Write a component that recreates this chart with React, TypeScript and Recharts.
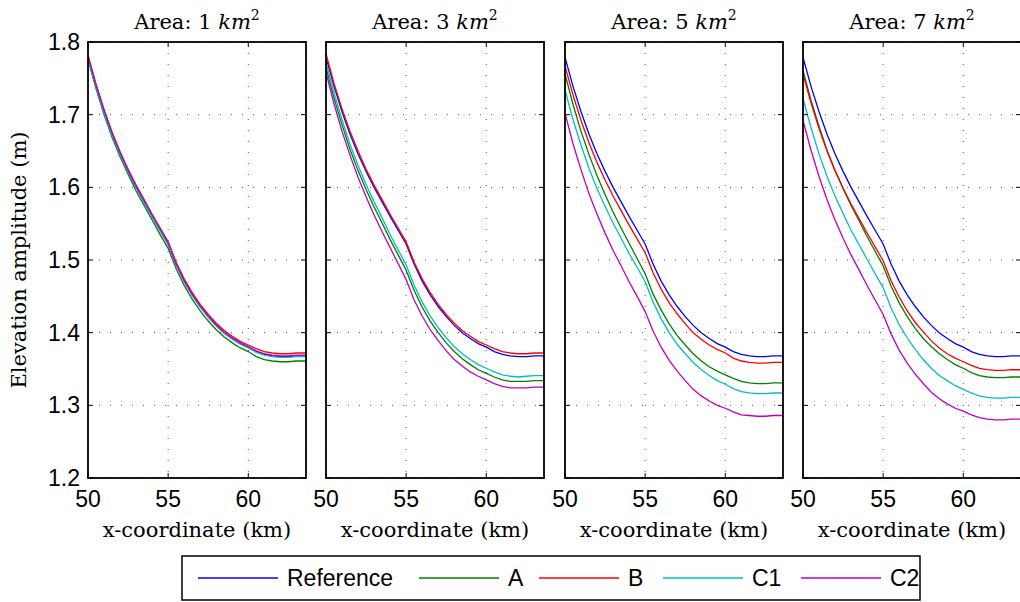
import React from 'react';
import { LineChart, Line, XAxis, YAxis, CartesianGrid } from 'recharts';

// ---------- data ----------
const xKm = [50, 50.5, 51, 51.5, 52, 52.5, 53, 53.5, 54, 54.5, 55, 55.5, 56, 56.5, 57, 57.5, 58, 58.5, 59, 59.5, 60, 60.5, 61, 61.5, 62, 62.5, 63, 63.6];
const yTicks = [1.2, 1.3, 1.4, 1.5, 1.6, 1.7, 1.8];
const xTicks = [50, 55, 60];
const areaValues = ['1', '3', '5', '7'];
const seriesNames = ['Reference', 'A', 'B', 'C1', 'C2'];
const seriesColors = ['#0000ff', '#008000', '#ff0000', '#00bfbf', '#bf00bf'];

const reference = [1.779, 1.739, 1.704, 1.673, 1.646, 1.622, 1.600, 1.580, 1.560, 1.541, 1.522, 1.494, 1.471, 1.452, 1.436, 1.422, 1.410, 1.400, 1.392, 1.385, 1.380, 1.374, 1.370, 1.368, 1.367, 1.367, 1.368, 1.368];

const area1A = [1.776, 1.736, 1.700, 1.669, 1.642, 1.618, 1.595, 1.575, 1.555, 1.535, 1.516, 1.488, 1.465, 1.446, 1.430, 1.416, 1.404, 1.394, 1.386, 1.379, 1.374, 1.367, 1.363, 1.361, 1.360, 1.360, 1.361, 1.361];
const area1B = [1.782, 1.742, 1.707, 1.676, 1.649, 1.625, 1.603, 1.583, 1.563, 1.544, 1.525, 1.497, 1.474, 1.455, 1.439, 1.425, 1.413, 1.403, 1.395, 1.388, 1.383, 1.378, 1.374, 1.372, 1.371, 1.371, 1.372, 1.372];
const area1C1 = [1.778, 1.738, 1.703, 1.672, 1.645, 1.621, 1.599, 1.579, 1.559, 1.540, 1.521, 1.493, 1.470, 1.451, 1.435, 1.421, 1.409, 1.399, 1.391, 1.384, 1.379, 1.373, 1.369, 1.367, 1.366, 1.366, 1.367, 1.367];
const area1C2 = [1.781, 1.741, 1.706, 1.675, 1.648, 1.624, 1.602, 1.582, 1.562, 1.543, 1.524, 1.495, 1.472, 1.453, 1.437, 1.423, 1.411, 1.401, 1.393, 1.386, 1.381, 1.375, 1.371, 1.369, 1.368, 1.368, 1.369, 1.369];

const area3A = [1.765, 1.723, 1.686, 1.652, 1.623, 1.597, 1.573, 1.551, 1.528, 1.507, 1.486, 1.458, 1.435, 1.416, 1.400, 1.386, 1.374, 1.364, 1.356, 1.349, 1.344, 1.339, 1.335, 1.333, 1.333, 1.333, 1.334, 1.334];
const area3B = [1.784, 1.743, 1.708, 1.677, 1.650, 1.625, 1.603, 1.583, 1.563, 1.544, 1.525, 1.497, 1.474, 1.455, 1.439, 1.425, 1.413, 1.403, 1.395, 1.388, 1.383, 1.378, 1.374, 1.372, 1.371, 1.371, 1.372, 1.372];
const area3C1 = [1.772, 1.730, 1.693, 1.659, 1.630, 1.604, 1.580, 1.558, 1.535, 1.514, 1.493, 1.465, 1.442, 1.423, 1.407, 1.393, 1.381, 1.371, 1.363, 1.356, 1.351, 1.346, 1.342, 1.340, 1.339, 1.340, 1.341, 1.341];
const area3C2 = [1.758, 1.715, 1.677, 1.644, 1.614, 1.587, 1.562, 1.539, 1.517, 1.495, 1.473, 1.445, 1.423, 1.404, 1.389, 1.375, 1.363, 1.354, 1.346, 1.340, 1.335, 1.330, 1.326, 1.324, 1.324, 1.324, 1.325, 1.325];

const area5A = [1.756, 1.714, 1.677, 1.645, 1.616, 1.590, 1.566, 1.544, 1.523, 1.502, 1.481, 1.453, 1.431, 1.412, 1.396, 1.383, 1.371, 1.361, 1.353, 1.347, 1.342, 1.337, 1.333, 1.331, 1.330, 1.330, 1.331, 1.331];
const area5B = [1.767, 1.727, 1.692, 1.661, 1.634, 1.610, 1.588, 1.568, 1.548, 1.529, 1.510, 1.482, 1.460, 1.441, 1.426, 1.412, 1.400, 1.391, 1.383, 1.377, 1.372, 1.365, 1.361, 1.359, 1.358, 1.358, 1.359, 1.359];
const area5C1 = [1.734, 1.693, 1.658, 1.626, 1.598, 1.574, 1.551, 1.530, 1.509, 1.490, 1.470, 1.442, 1.419, 1.400, 1.384, 1.371, 1.359, 1.349, 1.341, 1.334, 1.329, 1.323, 1.319, 1.317, 1.316, 1.316, 1.317, 1.317];
const area5C2 = [1.702, 1.660, 1.624, 1.591, 1.563, 1.537, 1.513, 1.492, 1.470, 1.450, 1.429, 1.402, 1.380, 1.362, 1.347, 1.334, 1.322, 1.313, 1.306, 1.300, 1.296, 1.291, 1.287, 1.286, 1.285, 1.285, 1.286, 1.286];

const area7A = [1.761, 1.720, 1.684, 1.651, 1.623, 1.598, 1.575, 1.554, 1.532, 1.512, 1.492, 1.464, 1.441, 1.422, 1.406, 1.392, 1.381, 1.371, 1.363, 1.356, 1.351, 1.345, 1.341, 1.339, 1.338, 1.338, 1.339, 1.339];
const area7B = [1.756, 1.716, 1.681, 1.650, 1.623, 1.599, 1.577, 1.557, 1.537, 1.518, 1.499, 1.471, 1.449, 1.430, 1.414, 1.401, 1.389, 1.379, 1.371, 1.365, 1.360, 1.355, 1.351, 1.349, 1.348, 1.348, 1.349, 1.349];
const area7C1 = [1.722, 1.682, 1.646, 1.615, 1.588, 1.564, 1.541, 1.521, 1.501, 1.481, 1.462, 1.434, 1.411, 1.393, 1.377, 1.363, 1.351, 1.341, 1.334, 1.327, 1.322, 1.317, 1.313, 1.311, 1.310, 1.310, 1.311, 1.311];
const area7C2 = [1.692, 1.651, 1.615, 1.583, 1.555, 1.530, 1.507, 1.486, 1.465, 1.445, 1.425, 1.398, 1.376, 1.358, 1.343, 1.330, 1.318, 1.309, 1.302, 1.296, 1.292, 1.287, 1.283, 1.281, 1.280, 1.280, 1.281, 1.281];

const panelSeries = [
  [reference, area1A, area1B, area1C1, area1C2],
  [reference, area3A, area3B, area3C1, area3C2],
  [reference, area5A, area5B, area5C1, area5C2],
  [reference, area7A, area7B, area7C1, area7C2],
];

// ---------- layout ----------
const W = 1020;
const H = 602;
const PLOT_TOP = 42;
const PLOT_H = 436;
const PLOT_W = 218;
const AXIS_LEFT = 88;
const RIGHT_PAD = 20;
const panelLefts = [88, 326, 565, 803];
const legendItemX = [198, 419, 539, 663, 801];
const SERIF = '"DejaVu Serif", serif';
const SANS = '"Liberation Sans", Arial, sans-serif';

function buildRows(cols: number[][]) {
  return xKm.map((x, i) => {
    const row: Record<string, number> = { x };
    seriesNames.forEach((n, k) => {
      row[n] = cols[k][i];
    });
    return row;
  });
}

const XTick = (props: any) => {
  const { x, y, payload } = props;
  return (
    <g>
      <line x1={x} x2={x} y1={y} y2={y - 5} stroke="#000" strokeWidth={1} />
      <line x1={x} x2={x} y1={y - PLOT_H} y2={y - PLOT_H + 5} stroke="#000" strokeWidth={1} />
      <text x={x} y={y + 29} textAnchor="middle" fontFamily={SANS} fontSize={23} fill="#000">
        {payload.value}
      </text>
    </g>
  );
};

const makeYTick = (showLabel: boolean) => (props: any) => {
  const { x, y, payload } = props;
  return (
    <g>
      <line x1={x} x2={x + 5} y1={y} y2={y} stroke="#000" strokeWidth={1} />
      <line x1={x + PLOT_W - 5} x2={x + PLOT_W} y1={y} y2={y} stroke="#000" strokeWidth={1} />
      {showLabel && (
        <text x={x - 8} y={y + 8} textAnchor="end" fontFamily={SANS} fontSize={23} fill="#000">
          {Number(payload.value).toFixed(1)}
        </text>
      )}
    </g>
  );
};

function Panel({ index }: { index: number }) {
  const rows = buildRows(panelSeries[index]);
  return (
    <div style={{ position: 'absolute', left: panelLefts[index] - AXIS_LEFT, top: 0 }}>
      <LineChart
        width={AXIS_LEFT + PLOT_W + RIGHT_PAD}
        height={H}
        data={rows}
        margin={{ top: PLOT_TOP, right: RIGHT_PAD, bottom: H - PLOT_TOP - PLOT_H - 1, left: AXIS_LEFT - 1 }}
      >
        <CartesianGrid stroke="#555" strokeDasharray="1 10" strokeWidth={1} />
        <XAxis
          dataKey="x"
          type="number"
          domain={[50, 63.6]}
          ticks={xTicks}
          allowDataOverflow
          height={1}
          tickSize={0}
          tickMargin={0}
          axisLine={false}
          tickLine={false}
          tick={XTick}
          interval={0}
        />
        <YAxis
          type="number"
          domain={[1.2, 1.8]}
          ticks={yTicks}
          allowDataOverflow
          width={1}
          tickSize={0}
          tickMargin={0}
          axisLine={false}
          tickLine={false}
          tick={makeYTick(index === 0)}
          interval={0}
        />
        {seriesNames.map((n, k) => (
          <Line
            key={n}
            type="linear"
            dataKey={n}
            stroke={seriesColors[k]}
            strokeWidth={1.3}
            dot={false}
            activeDot={false}
            isAnimationActive={false}
          />
        ))}
      </LineChart>
    </div>
  );
}

export default function App() {
  return (
    <div style={{ position: 'absolute', left: 0, top: 0, width: W, height: H, overflow: 'hidden', background: '#fff' }}>
      {areaValues.map((_, i) => (
        <Panel key={i} index={i} />
      ))}
      <svg width={W} height={H} style={{ position: 'absolute', left: 0, top: 0, pointerEvents: 'none' }}>
        {panelLefts.map((left, i) => (
          <g key={i}>
            <rect x={left} y={PLOT_TOP} width={PLOT_W} height={PLOT_H} fill="none" stroke="#000" strokeWidth={1.8} />
            <text x={left + PLOT_W / 2} y={29} textAnchor="middle" fontFamily={SERIF} fontSize={21} fill="#000">
              {`Area: ${areaValues[i]} `}
              <tspan fontStyle="italic">km</tspan>
              <tspan dy={-9} fontSize={14}>2</tspan>
            </text>
            <text x={left + PLOT_W / 2} y={537} textAnchor="middle" fontFamily={SERIF} fontSize={21} fill="#000">
              x-coordinate (km)
            </text>
          </g>
        ))}
        <text x={26} y={260} transform="rotate(-90, 26, 260)" textAnchor="middle" fontFamily={SERIF} fontSize={21} fill="#000">
          Elevation amplitude (m)
        </text>
        <rect x={182} y={556} width={738} height={44} fill="#fff" stroke="#000" strokeWidth={1.5} />
        {seriesNames.map((n, k) => (
          <g key={n}>
            <line x1={legendItemX[k]} x2={legendItemX[k] + 80} y1={578} y2={578} stroke={seriesColors[k]} strokeWidth={1.3} />
            <text x={legendItemX[k] + 89} y={586} fontFamily={SANS} fontSize={23} fill="#000">
              {n}
            </text>
          </g>
        ))}
      </svg>
    </div>
  );
}
